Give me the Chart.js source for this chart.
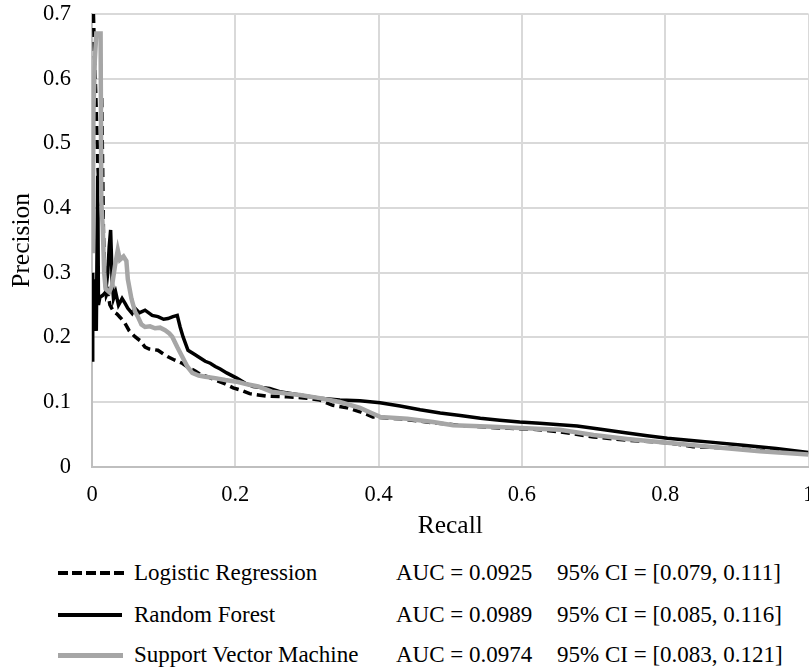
<!DOCTYPE html>
<html>
<head>
<meta charset="utf-8">
<title>Precision-Recall</title>
<script src="https://cdn.jsdelivr.net/npm/chart.js@4.4.1/dist/chart.umd.min.js"></script>
<style>
    body { margin: 0; background: #fff; }
    #wrap { position: relative; width: 809px; height: 668px; overflow: hidden; font-family: "Liberation Serif", "Times New Roman", serif; }
    #pr { position: absolute; left: 0; top: 0; }
    .row { position: absolute; left: 0; width: 809px; height: 28px; font-size: 23px; line-height: 28px; color: #000; }
    .row span { position: absolute; top: 0; white-space: nowrap; }
    .swatch { position: absolute; left: 58px; }
    .sw-lr { top: 12px; width: 70px; height: 4px; background: repeating-linear-gradient(90deg, #000 0 10px, transparent 10px 14px); }
    .sw-rf { top: 12px; width: 64px; height: 4px; background: #000; }
    .sw-svm { top: 12px; width: 65px; height: 5px; background: #a6a6a6; }
</style>
</head>
<body>
<div id="wrap">
    <canvas id="pr" width="809" height="545"></canvas>
    <div class="row" style="top:559px"><div class="swatch sw-lr"></div><span style="left:134px">Logistic Regression</span><span style="left:396px">AUC = 0.0925</span><span style="left:557px">95% CI = [0.079, 0.111]</span></div>
    <div class="row" style="top:601px"><div class="swatch sw-rf"></div><span style="left:134px">Random Forest</span><span style="left:396px">AUC = 0.0989</span><span style="left:557px">95% CI = [0.085, 0.116]</span></div>
    <div class="row" style="top:641px"><div class="swatch sw-svm"></div><span style="left:134px">Support Vector Machine</span><span style="left:396px">AUC = 0.0974</span><span style="left:557px">95% CI = [0.083, 0.121]</span></div>
</div>
<script>
// Logistic Regression curve
const lrRecall = [0.002, 0.004, 0.006, 0.008, 0.011, 0.0135, 0.015, 0.016, 0.018, 0.020, 0.022, 0.025, 0.030, 0.035, 0.040, 0.046,
    0.052, 0.060, 0.067, 0.074, 0.080, 0.092, 0.100, 0.106, 0.115, 0.126, 0.135, 0.144, 0.152, 0.162, 0.174, 0.186, 0.197, 0.209,
    0.220, 0.232, 0.244, 0.272, 0.300, 0.318, 0.336, 0.356, 0.374, 0.392, 0.430, 0.476, 0.523, 0.569, 0.616, 0.653, 0.700, 0.747,
    0.803, 0.839, 0.886, 0.932, 1.000];
const lrPrecision = [0.70, 0.62, 0.55, 0.47, 0.40, 0.573, 0.45, 0.36, 0.29, 0.265, 0.27, 0.25, 0.24, 0.236, 0.23, 0.222,
    0.21, 0.201, 0.195, 0.185, 0.182, 0.180, 0.174, 0.170, 0.165, 0.160, 0.153, 0.148, 0.142, 0.139, 0.133, 0.128, 0.122, 0.118,
    0.113, 0.111, 0.109, 0.108, 0.106, 0.103, 0.095, 0.091, 0.085, 0.077, 0.074, 0.068, 0.063, 0.060, 0.058, 0.054, 0.046, 0.041,
    0.037, 0.031, 0.029, 0.025, 0.021];

// Random Forest curve
const rfRecall = [0.000, 0.001, 0.002, 0.003, 0.004, 0.005, 0.006, 0.008, 0.009, 0.011, 0.015, 0.019, 0.022, 0.024, 0.026, 0.027,
    0.028, 0.030, 0.033, 0.037, 0.042, 0.046, 0.050, 0.056, 0.060, 0.066, 0.074, 0.084, 0.092, 0.100, 0.106, 0.113, 0.119, 0.123,
    0.127, 0.134, 0.144, 0.151, 0.158, 0.165, 0.172, 0.179, 0.188, 0.202, 0.214, 0.225, 0.248, 0.262, 0.290, 0.318, 0.346, 0.374,
    0.402, 0.430, 0.458, 0.486, 0.514, 0.542, 0.569, 0.597, 0.625, 0.653, 0.677, 0.710, 0.747, 0.775, 0.803, 0.833, 0.863, 0.909,
    0.955, 1.000];
const rfPrecision = [0.165, 0.30, 0.21, 0.29, 0.22, 0.27, 0.21, 0.45, 0.25, 0.262, 0.265, 0.27, 0.30, 0.34, 0.366, 0.33,
    0.29, 0.26, 0.27, 0.25, 0.26, 0.253, 0.245, 0.237, 0.245, 0.238, 0.242, 0.234, 0.232, 0.228, 0.229, 0.232, 0.234, 0.216,
    0.201, 0.180, 0.173, 0.168, 0.163, 0.160, 0.155, 0.151, 0.145, 0.137, 0.129, 0.124, 0.121, 0.116, 0.111, 0.106, 0.103, 0.102,
    0.099, 0.094, 0.088, 0.083, 0.079, 0.075, 0.072, 0.069, 0.067, 0.065, 0.063, 0.058, 0.052, 0.048, 0.044, 0.041, 0.038, 0.033,
    0.028, 0.022];

// Support Vector Machine curve
const svmRecall = [0.001, 0.002, 0.004, 0.006, 0.012, 0.013, 0.015, 0.017, 0.019, 0.024, 0.028, 0.032, 0.036, 0.039, 0.044, 0.048,
    0.050, 0.055, 0.060, 0.064, 0.069, 0.074, 0.081, 0.088, 0.095, 0.102, 0.108, 0.112, 0.119, 0.126, 0.133, 0.140, 0.149, 0.158,
    0.172, 0.186, 0.204, 0.218, 0.232, 0.251, 0.272, 0.290, 0.318, 0.346, 0.374, 0.390, 0.402, 0.440, 0.476, 0.504, 0.551, 0.598,
    0.653, 0.700, 0.747, 0.803, 0.862, 0.932, 1.000];
const svmPrecision = [0.33, 0.55, 0.63, 0.67, 0.67, 0.41, 0.37, 0.30, 0.275, 0.27, 0.28, 0.31, 0.335, 0.32, 0.325, 0.318,
    0.29, 0.26, 0.24, 0.232, 0.22, 0.216, 0.217, 0.214, 0.215, 0.211, 0.206, 0.201, 0.185, 0.170, 0.155, 0.145, 0.141, 0.139,
    0.137, 0.134, 0.131, 0.127, 0.124, 0.116, 0.113, 0.111, 0.106, 0.100, 0.091, 0.083, 0.077, 0.074, 0.069, 0.064, 0.062, 0.060,
    0.057, 0.049, 0.043, 0.037, 0.031, 0.024, 0.019];

const xTicks = [0, 0.2, 0.4, 0.6, 0.8, 1];
const yTicks = [0, 0.1, 0.2, 0.3, 0.4, 0.5, 0.6, 0.7];

const serif = '"Liberation Serif", "Times New Roman", serif';

function toPoints(xs, ys) {
    return xs.map((x, i) => ({ x: x, y: ys[i] }));
}

function fmt(v) {
    const r = Math.round(v * 10) / 10;
    return (r === 0 || r === 1) ? String(r) : r.toFixed(1);
}

const ctx = document.getElementById('pr').getContext('2d');

new Chart(ctx, {
    type: 'scatter',
    data: {
        datasets: [
            {
                label: 'Support Vector Machine',
                data: toPoints(svmRecall, svmPrecision),
                borderColor: '#a6a6a6',
                borderWidth: 4.5,
                order: 0
            },
            {
                label: 'Random Forest',
                data: toPoints(rfRecall, rfPrecision),
                borderColor: '#000',
                borderWidth: 3.5,
                order: 1
            },
            {
                label: 'Logistic Regression',
                data: toPoints(lrRecall, lrPrecision),
                borderColor: '#000',
                borderWidth: 3.5,
                borderDash: [9, 5],
                order: 2
            }
        ].map(ds => Object.assign(ds, { showLine: true, pointRadius: 0, tension: 0, fill: false }))
    },
    options: {
        responsive: false,
        animation: false,
        layout: { padding: { top: 14, right: 0.5, left: 0, bottom: 0 } },
        plugins: { legend: { display: false }, tooltip: { enabled: false } },
        scales: {
            x: {
                type: 'linear',
                min: 0,
                max: 1,
                afterBuildTicks: s => { s.ticks = xTicks.map(v => ({ value: v })); },
                afterFit: s => { s.height = 78.3; s.paddingLeft = 0; s.paddingRight = 0; },
                grid: { color: '#d9d9d9', lineWidth: 2, drawTicks: false },
                border: { color: '#bfbfbf', width: 2 },
                ticks: { color: '#000', padding: 15, maxRotation: 0, font: { family: serif, size: 22.5 }, callback: fmt },
                title: { display: true, text: 'Recall', color: '#000', padding: { top: 0, bottom: 3 }, font: { family: serif, size: 25.5 } }
            },
            y: {
                type: 'linear',
                min: 0,
                max: 0.7,
                afterBuildTicks: s => { s.ticks = yTicks.map(v => ({ value: v })); },
                afterFit: s => { s.width = 92; s.paddingTop = 0; s.paddingBottom = 0; },
                grid: { color: '#d9d9d9', lineWidth: 2, drawTicks: false },
                border: { color: '#bfbfbf', width: 2 },
                ticks: { color: '#000', padding: 21, font: { family: serif, size: 22.5 }, callback: fmt },
                title: { display: true, text: 'Precision', color: '#000', padding: { top: 7, bottom: 0 }, font: { family: serif, size: 25.5 } }
            }
        }
    }
});
</script>
</body>
</html>
